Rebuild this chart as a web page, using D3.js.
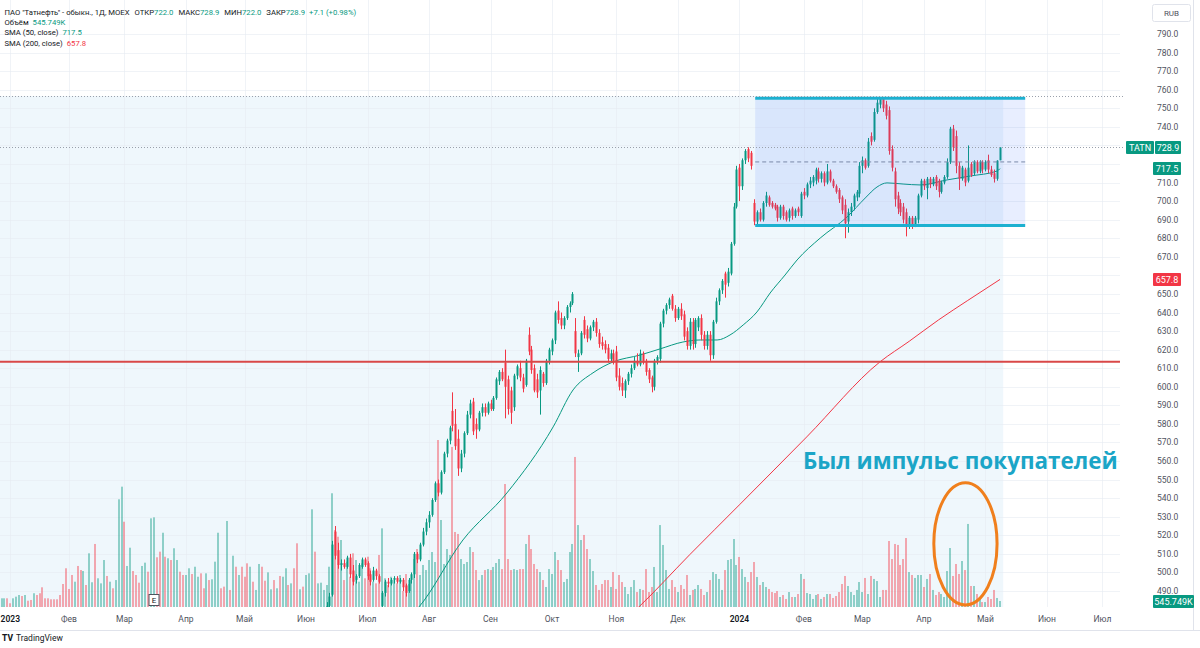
<!DOCTYPE html>
<html><head><meta charset="utf-8">
<script src="https://cdn.jsdelivr.net/npm/d3@7"></script>
<style>
body{margin:0;background:#fff;}
svg{display:block;font-family:Roboto,"Liberation Sans",sans-serif;}
</style>
</head><body>
<svg id="c" width="1200" height="648"></svg>
<script>
// ---------------- DATA ----------------
const candleStart = 110;
const opens = [475,479,482,488,522,512,504,505,503,508,501,496,498,503,507,505,499,496,501,498,
482,489,495,494,496,497,495,496,493,490,496,499,510,507,515,522,527,531,539,548,
543,554,564,571,587,580,572,556,564,575,585,592,580,577,586,589,586,591,588,594,
603,608,613,604,598,589,606,610,605,601,628,620,610,604,598,607,602,614,619,625,
641,637,633,637,643,645,630,616,618,636,631,626,632,635,629,624,623,621,615,618,
619,606,602,598,603,607,610,614,612,618,614,609,605,600,614,615,634,641,644,649,
642,637,642,639,630,622,635,623,632,637,628,622,628,617,635,646,652,661,656,661,
677,697,718,708,722,728,726,699,689,694,690,699,702,699,698,697,691,697,694,691,
696,692,696,692,705,703,709,710,711,716,712,715,710,716,711,708,706,702,698,689,
694,697,702,704,719,722,719,735,733,748,752,755,752,749,728,716,703,699,697,694,
687,691,687,690,703,711,707,712,709,713,711,705,710,713,721,739,735,719,712,717,
711,720,715,721,716,721,717,722,717,715,712,722.0];
const highs = [481,484,489,517,525,516,507,507,509,510,504,499,505,508,508,506,501,503,502,499,
490,496,497,497,498,498,497,497,494,497,500,511,511,516,524,529,533,540,549,550,
555,565,572,579,597,588,577,566,576,587,593,594,583,587,591,591,592,593,595,605,
609,610,620,606,600,607,612,614,607,615,632,622,612,607,611,608,615,621,626,641,
646,640,638,644,646,651,637,620,630,638,633,633,636,637,631,627,625,623,620,620,
622,610,605,604,608,612,616,618,620,619,615,610,606,615,617,635,642,645,648,650,
644,643,645,641,632,637,637,637,638,639,630,630,630,636,648,653,658,662,664,678,
699,719,720,723,728,729,727,701,695,696,700,705,703,700,699,698,698,698,695,696,
697,696,697,705,707,710,713,714,718,718,716,716,720,717,712,709,707,703,701,696,
699,704,706,721,724,723,734,737,750,755,756,756,754,751,730,718,705,701,699,696,
692,692,692,704,712,712,713,713,713,714,712,711,714,723,740,741,738,721,719,718,
730,721,722,722,722,722,722,725,719,717,722,728.9];
const lows = [472,476,479,487,507,502,501,502,502,497,493,494,497,502,503,496,493,495,496,494,
478,487,492,493,494,494,494,490,487,489,494,497,505,506,514,520,524,530,538,541,
542,553,562,569,576,566,552,554,562,574,583,574,572,576,584,584,585,587,587,593,
601,603,583,585,580,587,604,603,597,600,617,607,597,594,585,600,601,612,617,623,
634,631,631,636,640,644,616,608,617,626,624,625,630,627,621,620,618,613,613,612,
603,598,595,594,601,605,609,611,611,612,606,602,597,598,612,613,632,639,642,641,
635,636,636,625,620,620,620,621,630,625,620,620,614,615,634,644,650,648,654,660,
676,696,700,706,720,721,717,687,687,689,689,697,697,696,695,689,690,690,689,689,
690,691,692,691,701,702,707,708,709,710,710,708,709,710,707,704,699,693,680,683,
692,695,700,702,715,717,718,730,732,747,750,748,744,725,716,697,693,692,688,681,
685,685,686,688,702,706,701,707,708,706,702,704,709,712,720,727,715,706,711,708,
710,713,714,715,715,715,716,715,713,710,711,722.0];
const closes = [479,482,487,515,509,504,505,503,508,499,495,498,504,507,504,498,495,501,498,495,
489,495,494,496,497,495,496,492,489,496,499,510,507,515,522,527,531,539,548,543,
554,564,571,578,579,568,556,564,575,585,591,576,577,586,589,586,591,588,594,604,
608,604,600,588,586,606,611,605,599,614,619,609,598,597,609,602,614,620,625,640,
636,633,637,643,645,650,618,618,629,628,626,632,635,629,623,622,620,615,618,613,
605,600,598,603,607,610,614,612,618,613,608,604,600,614,616,634,641,644,647,642,
637,642,638,627,622,635,623,636,637,628,622,628,617,635,646,652,657,655,662,677,
697,717,708,722,727,723,719,689,694,690,699,703,698,697,696,691,697,692,690,695,
692,695,694,704,703,709,711,713,717,712,715,710,716,711,708,705,701,695,688,694,
697,703,705,719,722,718,732,732,748,753,755,750,746,727,718,701,696,694,690,686,
691,687,691,703,711,708,712,709,712,708,705,710,713,721,739,729,719,712,718,710,
718,714,721,716,721,717,721,717,714,712,721.8,728.9];
// daily volume, millions of shares, one value per trading day (index 0 = first bar shown)
const volumes = [0.79,0.79,0.79,0.34,0.79,0.94,1.09,1.00,1.09,0.57,
0.64,1.25,1.09,1.25,1.79,0.79,0.79,0.70,0.70,0.70,
1.09,2.09,3.52,1.64,2.91,2.30,3.73,3.36,3.27,2.00,
4.88,2.25,5.73,2.61,2.15,4.27,2.82,2.30,1.70,2.45,
9.79,10.94,7.75,3.73,5.39,3.27,2.91,2.21,3.73,4.03,
3.21,8.06,8.15,4.52,5.03,6.75,4.57,4.43,4.27,5.34,
4.27,3.21,2.91,2.91,3.52,3.00,3.66,2.75,3.06,1.70,
3.06,2.45,2.52,4.12,6.75,1.70,1.85,7.82,1.55,4.66,
3.66,2.91,3.66,2.75,3.97,3.66,2.30,1.55,3.91,3.66,
2.39,3.15,1.61,2.45,1.70,2.82,2.75,3.52,2.00,2.15,
3.52,5.79,1.61,1.85,2.91,3.06,8.88,5.03,2.15,2.21,
1.55,2.00,3.66,10.34,7.00,6.39,6.09,2.45,4.12,2.75,
4.88,4.27,2.30,3.97,2.61,4.57,3.52,2.30,2.15,4.73,
7.15,2.61,2.00,2.75,2.45,2.15,2.91,1.45,3.00,2.09,
2.45,4.36,5.27,2.91,3.82,3.36,4.27,5.00,4.09,15.18,
7.91,3.91,5.27,4.73,14.55,6.82,6.64,4.36,3.91,4.09,
5.45,5.00,3.36,2.45,2.91,3.36,3.45,3.36,3.64,4.00,
4.36,3.45,11.18,4.36,3.36,3.45,3.36,3.45,3.45,5.73,
6.55,5.27,3.91,3.45,3.18,2.45,1.82,3.45,3.00,5.00,
4.27,3.36,2.27,2.55,5.00,5.73,13.64,7.45,6.09,6.55,
5.27,4.36,3.27,2.00,1.55,2.09,2.45,2.45,1.82,3.18,
1.64,2.91,2.27,1.82,1.18,1.82,2.45,1.36,1.64,1.55,
3.45,1.36,1.82,3.64,1.36,7.45,5.64,3.36,1.64,2.45,
1.82,1.36,2.00,1.64,2.91,1.09,1.55,1.64,2.00,1.64,
1.09,1.36,2.45,3.18,3.00,2.55,1.55,3.36,4.27,4.36,
6.18,3.82,4.55,3.45,2.73,2.27,3.18,4.09,2.73,2.00,
2.27,1.82,1.64,1.36,1.27,1.45,0.91,1.09,0.73,1.36,
0.91,0.91,1.18,3.00,2.55,1.27,1.18,0.73,1.09,1.18,
0.73,0.91,1.18,1.18,0.82,1.00,1.36,2.09,2.82,1.91,
1.36,1.09,1.55,2.27,1.36,2.64,1.18,2.82,2.55,2.36,
0.91,1.55,1.55,6.00,4.36,5.73,5.64,3.82,4.36,6.27,
3.18,2.91,2.64,2.91,2.91,1.82,2.55,3.00,1.55,1.09,
1.36,1.18,0.91,3.27,5.36,2.82,3.91,3.00,4.18,3.36,
7.55,1.91,1.91,1.18,0.91,0.45,0.45,0.91,0.73,1.55,
0.82,0.545749];
// direction of the volume bars drawn before the first candle (g = up, r = down)
const volDirEarly = "ggrrgggrgr"+"rgrrrrrrrr"+"rrrrrgrrgr"+"ggrgggrgrg"+"ggrggrrrgg"+
                    "rggrrgrgrg"+"grrggrggrr"+"grgggrrgrg"+"rgrrrgrggr"+"rggrgrggrg"+"rrgrgggrgg";
const monthLabels = ["2023","Фев","Мар","Апр","Май","Июн","Июл","Авг","Сен","Окт","Ноя","Дек","2024","Фев","Мар","Апр","Май","Июн","Июл"];
const monthIdx    = [3,23,42,63,83,104,125,146,167,188,210,231,252,274,294,315,336,357,376];
const priceTicks = [790,780,770,760,750,740,730,720,710,700,690,680,670,660,650,640,630,620,610,600,590,580,570,560,550,540,530,520,510,500,490];
const sma50Idx = [138,142.3,157.6,172.6,188.4,195.2,202,208.9,218.1,224.9,232.7,238.6,244.4,248.8,253.3,258,262.5,267.6,271.7,279.6,288.8,295,299,302.4,307.9,313.7,322.9,330.8,340,341];
const sma50Val = [474,480.9,517.5,542.8,578.4,598.3,607.5,613.4,617.1,620.4,624.1,625.2,625.2,627.9,633.3,640.3,650.5,660.2,668.3,680.1,691.5,701.7,707.6,709.8,709.2,708.7,711.4,713.5,716.2,717.5];
const sma200Idx = [214,217.4,235,252,275,300,310,320,330,341];
const sma200Val = [476,481,509.5,536.4,573,613.4,624.5,636,646.5,657.8];
const levelPrice = 613.5;        // red horizontal level
const rangeBox = {i0:257.4, i1:349.6, top:755.4, bottom:686.8};
const highLine = 756.6;
const lastPrice = 728.9, sma50Last = 717.5, sma200Last = 657.8, lastVolume = "545.749K";
const shadeEndIdx = 342.1;
const earningsIdx = 52;
const ellipse = {i:329.2, p:515.4, ri:10.8, rp:32.9};
const noteIdx = 273.7, notePrice = 555.8;

// ---------------- SCALES ----------------
const W = 1200, H = 648, paneR = 1120, paneB = 607;
const x = d3.scaleLinear().domain([0, 341]).range([1.5, 1000]);
const y = d3.scaleLinear().domain([490, 790]).range([591, 34]);
const yv = d3.scaleLinear().domain([0, 10]).range([paneB, paneB - 110]);

const UP = "#089981", DN = "#f23645";
const svg = d3.select("#c");
svg.append("rect").attr("width", W).attr("height", H).attr("fill", "#fff");
const defs = svg.append("defs");
defs.append("clipPath").attr("id","pane").append("rect").attr("x",0).attr("y",0).attr("width",paneR).attr("height",paneB);
const pane = svg.append("g").attr("clip-path","url(#pane)");

// shaded region
pane.append("rect").attr("x", 0).attr("y", y(highLine)).attr("width", x(shadeEndIdx)).attr("height", paneB - y(highLine)).attr("fill", "#eff7fc");

// grid
pane.append("g").selectAll("line").data(priceTicks).join("line")
  .attr("x1",0).attr("x2",paneR).attr("y1",d=>Math.round(y(d))+0.5).attr("y2",d=>Math.round(y(d))+0.5)
  .attr("stroke","#e6ebf2").attr("stroke-opacity",0.6);
pane.append("g").selectAll("line").data(monthIdx).join("line")
  .attr("x1",d=>Math.round(x(d))+0.5).attr("x2",d=>Math.round(x(d))+0.5).attr("y1",0).attr("y2",paneB)
  .attr("stroke","#e6ebf2").attr("stroke-opacity",0.6);

// volume
const isUp = i => i < candleStart ? volDirEarly[i] === "g" : closes[i-candleStart] >= opens[i-candleStart];
pane.append("g").selectAll("rect").data(volumes).join("rect")
  .attr("x",(d,i)=>Math.round(x(i))-1).attr("width",2)
  .attr("y",d=>yv(d)).attr("height",d=>paneB-yv(d))
  .attr("fill",(d,i)=>isUp(i)?UP:DN).attr("fill-opacity",0.42);

// SMA lines
const line = d3.line().curve(d3.curveMonotoneX);
pane.append("path").attr("d", line(sma200Idx.map((d,k)=>[x(d), y(sma200Val[k])])))
  .attr("fill","none").attr("stroke",DN).attr("stroke-width",1);
pane.append("path").attr("d", line(sma50Idx.map((d,k)=>[x(d), y(sma50Val[k])])))
  .attr("fill","none").attr("stroke",UP).attr("stroke-width",1);

// candles
const candles = opens.map((o,k)=>({i:k+candleStart,o,h:highs[k],l:lows[k],c:closes[k]}));
const cg = pane.append("g");
cg.selectAll("line").data(candles).join("line")
  .attr("x1",d=>Math.round(x(d.i))+0.5).attr("x2",d=>Math.round(x(d.i))+0.5)
  .attr("y1",d=>y(d.h)).attr("y2",d=>y(d.l))
  .attr("stroke",d=>d.c>=d.o?UP:DN).attr("stroke-width",1);
cg.selectAll("rect").data(candles).join("rect")
  .attr("x",d=>Math.round(x(d.i))-0.5).attr("width",2)
  .attr("y",d=>y(Math.max(d.o,d.c))).attr("height",d=>Math.max(1,Math.abs(y(d.o)-y(d.c))))
  .attr("fill",d=>d.c>=d.o?UP:DN);

// range box drawing
pane.append("rect").attr("x",x(rangeBox.i0)).attr("width",x(rangeBox.i1)-x(rangeBox.i0))
  .attr("y",y(rangeBox.top)).attr("height",y(rangeBox.bottom)-y(rangeBox.top))
  .attr("fill","rgb(41,98,255)").attr("fill-opacity",0.11);
pane.append("line").attr("x1",x(rangeBox.i0)).attr("x2",x(rangeBox.i1))
  .attr("y1",y((rangeBox.top+rangeBox.bottom)/2)).attr("y2",y((rangeBox.top+rangeBox.bottom)/2))
  .attr("stroke","#7a8aa8").attr("stroke-dasharray","4,3").attr("stroke-width",1);
[rangeBox.top, rangeBox.bottom].forEach(p=>{
  pane.append("line").attr("x1",x(rangeBox.i0)).attr("x2",x(rangeBox.i1)).attr("y1",y(p)).attr("y2",y(p))
    .attr("stroke","#1cb0d0").attr("stroke-width",3);
});

// horizontal level
pane.append("line").attr("x1",0).attr("x2",paneR).attr("y1",y(levelPrice)).attr("y2",y(levelPrice))
  .attr("stroke","#d94848").attr("stroke-width",2);

// dotted lines
[highLine, lastPrice].forEach(p=>{
  svg.append("line").attr("x1",0).attr("x2",paneR+5).attr("y1",Math.round(y(p))+0.5).attr("y2",Math.round(y(p))+0.5)
   .attr("stroke","#9aa0ab").attr("stroke-dasharray","1,2").attr("stroke-width",1);
});

// annotation
const note = svg.append("text").attr("x",x(noteIdx)).attr("y",y(notePrice))
  .attr("font-family","'Open Sans',sans-serif").attr("font-weight",700).attr("font-size",27)
  .attr("fill","#1ba5c7").text("Был импульс покупателей");
const nl = note.node().getComputedTextLength();
note.attr("font-size", 27*315/nl);
svg.append("ellipse").attr("cx",x(ellipse.i)).attr("cy",y(ellipse.p))
  .attr("rx",x(ellipse.i+ellipse.ri)-x(ellipse.i)).attr("ry",y(ellipse.p-ellipse.rp)-y(ellipse.p))
  .attr("fill","none").attr("stroke","#f07f1c").attr("stroke-width",3);

// earnings marker
const eg = svg.append("g").attr("transform",`translate(${Math.round(x(earningsIdx))},600)`);
eg.append("rect").attr("x",-5).attr("y",-5.5).attr("width",10).attr("height",11).attr("fill","#fff").attr("stroke","#50535e").attr("stroke-width",1);
eg.append("text").attr("text-anchor","middle").attr("y",3).attr("font-size",8).attr("fill","#131722").text("E");

// time axis
svg.append("line").attr("x1",0).attr("x2",W).attr("y1",630.5).attr("y2",630.5).attr("stroke","#e0e3eb");
svg.append("g").selectAll("text").data(monthLabels).join("text")
  .attr("x",(d,k)=>x(monthIdx[k])).attr("y",621.5).attr("text-anchor","middle")
  .attr("font-size",8.5).attr("fill",d=>/^\d/.test(d)?"#131722":"#50535e")
  .attr("font-weight",d=>/^\d/.test(d)?600:400).text(d=>d);

// price axis (labels hidden behind the value tags are left out, as on the chart)
const tagPrices = [lastPrice, sma50Last, sma200Last];
svg.append("line").attr("x1",1193.5).attr("x2",1193.5).attr("y1",0).attr("y2",630).attr("stroke","#e0e3eb");
svg.append("g").selectAll("text").data(priceTicks.filter(t=>tagPrices.every(p=>Math.abs(y(p)-y(t))>9))).join("text")
  .attr("x",1157).attr("y",d=>y(d)+3).attr("font-size",8.5).attr("fill","#50535e").text(d=>d.toFixed(1));
const rub = svg.append("g");
rub.append("rect").attr("x",1152.5).attr("y",4.5).attr("width",38).attr("height",17).attr("rx",2).attr("fill","#fff").attr("stroke","#e0e3eb");
rub.append("text").attr("x",1171.5).attr("y",15.5).attr("text-anchor","middle").attr("font-size",8).attr("fill","#50535e").text("RUB");

function tag(x0, w, yc, bg, txt, anchorX){
  svg.append("rect").attr("x",x0).attr("y",yc-6.5).attr("width",w).attr("height",13).attr("rx",1).attr("fill",bg);
  svg.append("text").attr("x",anchorX).attr("y",yc+3.3).attr("text-anchor","middle").attr("font-size",9).attr("fill","#fff").text(txt);
}
tag(1126, 28, y(lastPrice), UP, "TATN", 1140);
tag(1155, 26, y(lastPrice), UP, lastPrice.toFixed(1), 1168);
tag(1153, 28, y(sma50Last), UP, sma50Last.toFixed(1), 1167);
tag(1153, 28, y(sma200Last), DN, sma200Last.toFixed(1), 1167);
svg.append("line").attr("x1",1154.5).attr("x2",1154.5).attr("y1",y(lastPrice)-6.5).attr("y2",y(lastPrice)+6.5).attr("stroke","#fff").attr("stroke-opacity",0.6);
tag(1153, 41, 601.5, UP, lastVolume, 1173.5);

// legend
const lg = svg.append("g").attr("font-size",7.7).attr("fill","#131722");
const l1 = lg.append("text").attr("x",4.5).attr("y",14.5);
l1.append("tspan").text('ПАО "Татнефть" - обыкн., 1Д, MOEX');
[["ОТКР","722.0"],["МАКС","728.9"],["МИН","722.0"],["ЗАКР","728.9"]].forEach(([k,v])=>{
  l1.append("tspan").attr("dx",5).text(k);
  l1.append("tspan").attr("fill",UP).text(v);
});
l1.append("tspan").attr("dx",4).attr("fill",UP).text("+7.1 (+0.98%)");
const l2 = lg.append("text").attr("x",4.5).attr("y",24.5);
l2.append("tspan").text("Объём");
l2.append("tspan").attr("dx",4).attr("fill",UP).text(lastVolume);
const l3 = lg.append("text").attr("x",4.5).attr("y",35);
l3.append("tspan").text("SMA (50, close)");
l3.append("tspan").attr("dx",4).attr("fill",UP).text(sma50Last.toFixed(1));
const l4 = lg.append("text").attr("x",4.5).attr("y",45.5);
l4.append("tspan").text("SMA (200, close)");
l4.append("tspan").attr("dx",4).attr("fill",DN).text(sma200Last.toFixed(1));

// footer logo
const fg = svg.append("g").attr("transform","translate(2,641)");
fg.append("text").attr("font-size",8.5).attr("font-weight",800).attr("fill","#131722").text("TV");
fg.append("text").attr("x",14).attr("font-size",8.5).attr("fill","#131722").text("TradingView");
</script>
</body></html>
